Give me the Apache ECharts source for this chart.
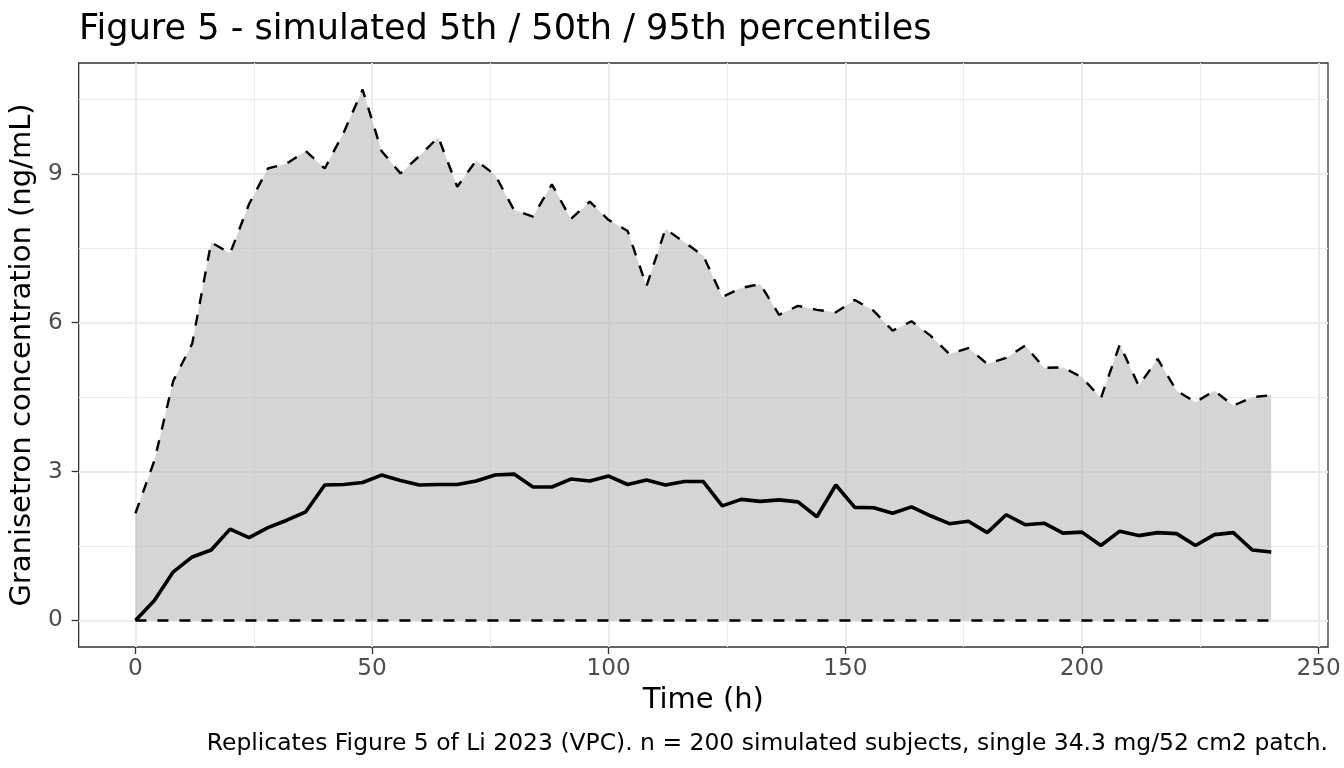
<!DOCTYPE html>
<html>
<head>
<meta charset="utf-8">
<script src="https://cdn.jsdelivr.net/npm/echarts@6/dist/echarts.min.js"></script>
<style>
html,body{margin:0;padding:0;background:#fff;}
#chart{width:1344px;height:768px;}
</style>
</head>
<body>
<div id="chart"></div>
<script>
var timeH = [0,4,8,12,16,20,24,28,32,36,40,44,48,52,56,60,64,68,72,76,80,84,88,92,96,100,104,108,112,116,120,124,128,132,136,140,144,148,152,156,160,164,168,172,176,180,184,188,192,196,200,204,208,212,216,220,224,228,232,236,240];
var p5 = [0,0,0,0,0,0,0,0,0,0,0,0,0,0,0,0,0,0,0,0,0,0,0,0,0,0,0,0,0,0,0,0,0,0,0,0,0,0,0,0,0,0,0,0,0,0,0,0,0,0,0,0,0,0,0,0,0,0,0,0,0];
var p50 = [0,0.40,0.98,1.28,1.42,1.84,1.67,1.87,2.02,2.19,2.73,2.74,2.78,2.93,2.82,2.73,2.74,2.74,2.81,2.93,2.95,2.69,2.69,2.85,2.81,2.91,2.74,2.83,2.73,2.80,2.80,2.31,2.44,2.40,2.43,2.39,2.09,2.73,2.28,2.27,2.16,2.29,2.11,1.95,2.00,1.77,2.13,1.93,1.96,1.76,1.78,1.51,1.80,1.71,1.77,1.75,1.51,1.73,1.77,1.42,1.38];
var p95 = [2.16,3.22,4.83,5.58,7.62,7.40,8.39,9.11,9.21,9.46,9.11,9.83,10.70,9.46,9.01,9.36,9.74,8.74,9.27,8.98,8.27,8.14,8.79,8.09,8.44,8.07,7.85,6.74,7.89,7.62,7.35,6.52,6.70,6.78,6.16,6.34,6.26,6.21,6.46,6.24,5.84,6.03,5.74,5.37,5.49,5.17,5.29,5.54,5.09,5.10,4.90,4.48,5.56,4.73,5.27,4.63,4.40,4.63,4.33,4.50,4.54];
var xTicks = [0,50,100,150,200,250];
var xMinor = [25,75,125,175,225];
var yTicks = [0,3,6,9];
var yMinor = [1.5,4.5,7.5,10.5];

function pairs(xs, ys){ return xs.map(function(x,i){ return [x, ys[i]]; }); }

var FONT = 'DejaVu Sans';
var chart = echarts.init(document.getElementById('chart'), null, {renderer:'canvas'});

var option = {
  animation:false,
  backgroundColor:'#ffffff',
  title:[
    {text:'Figure 5 - simulated 5th / 50th / 95th percentiles', left:74, top:7,
     textStyle:{fontSize:35.1, fontWeight:'normal', color:'#000000', fontFamily:FONT}},
    {text:'Replicates Figure 5 of Li 2023 (VPC). n = 200 simulated subjects, single 34.3 mg/52 cm2 patch.',
     right:11, top:727, textStyle:{fontSize:23.45, fontWeight:'normal', color:'#000000', fontFamily:FONT}}
  ],
  grid:{left:78, top:63, width:1250, height:584, show:true, borderColor:'#333333', borderWidth:1.3, backgroundColor:'#ffffff', containLabel:false},
  xAxis:[
    {type:'value', gridIndex:0, min:-12, max:252, position:'bottom',
     axisLine:{show:false, onZero:false},
     axisTick:{show:true, customValues:xTicks, length:7, lineStyle:{color:'#333333', width:1.3}},
     axisLabel:{show:true, customValues:xTicks, margin:10, color:'#4D4D4D', fontSize:23.2, fontFamily:FONT},
     splitLine:{show:true, lineStyle:{color:'#EBEBEB', width:2}},
     name:'Time (h)', nameLocation:'middle', nameGap:39,
     nameTextStyle:{color:'#000000', fontSize:29, fontFamily:FONT}},
    {type:'value', gridIndex:0, min:-12, max:252, position:'top',
     axisLine:{show:false, onZero:false}, axisTick:{show:false, customValues:xMinor},
     axisLabel:{show:false, customValues:xMinor},
     splitLine:{show:true, lineStyle:{color:'#EDEDED', width:1.1}}}
  ],
  yAxis:[
    {type:'value', gridIndex:0, min:-0.535, max:11.235, position:'left',
     axisLine:{show:false, onZero:false},
     axisTick:{show:true, customValues:yTicks, length:7, lineStyle:{color:'#333333', width:1.3}},
     axisLabel:{show:true, customValues:yTicks, margin:16, color:'#4D4D4D', fontSize:23.2, fontFamily:FONT},
     splitLine:{show:true, lineStyle:{color:'#EBEBEB', width:2}},
     name:'Granisetron concentration (ng/mL)', nameLocation:'middle', nameGap:36, nameRotate:90,
     nameTextStyle:{color:'#000000', fontSize:29, fontFamily:FONT}},
    {type:'value', gridIndex:0, min:-0.535, max:11.235, position:'right',
     axisLine:{show:false, onZero:false}, axisTick:{show:false, customValues:yMinor},
     axisLabel:{show:false, customValues:yMinor},
     splitLine:{show:true, lineStyle:{color:'#EDEDED', width:1.1}}}
  ],
  series:[
    {name:'ribbon', type:'line', xAxisIndex:0, yAxisIndex:0, data:pairs(timeH,p95),
     symbol:'none', lineStyle:{width:0, opacity:0}, areaStyle:{color:'#B3B3B3', opacity:0.55, origin:'auto'}, silent:true, z:1},
    {name:'5th', type:'line', xAxisIndex:0, yAxisIndex:0, data:pairs(timeH,p5), symbol:'none',
     lineStyle:{color:'#000000', width:2.4, type:[11,11]}, z:3},
    {name:'95th', type:'line', xAxisIndex:0, yAxisIndex:0, data:pairs(timeH,p95), symbol:'none',
     lineStyle:{color:'#000000', width:2.4, type:[11,11]}, z:3},
    {name:'50th', type:'line', xAxisIndex:0, yAxisIndex:0, data:pairs(timeH,p50), symbol:'none',
     lineStyle:{color:'#000000', width:3.6}, z:4}
  ]
};
chart.setOption(option);
</script>
</body>
</html>
